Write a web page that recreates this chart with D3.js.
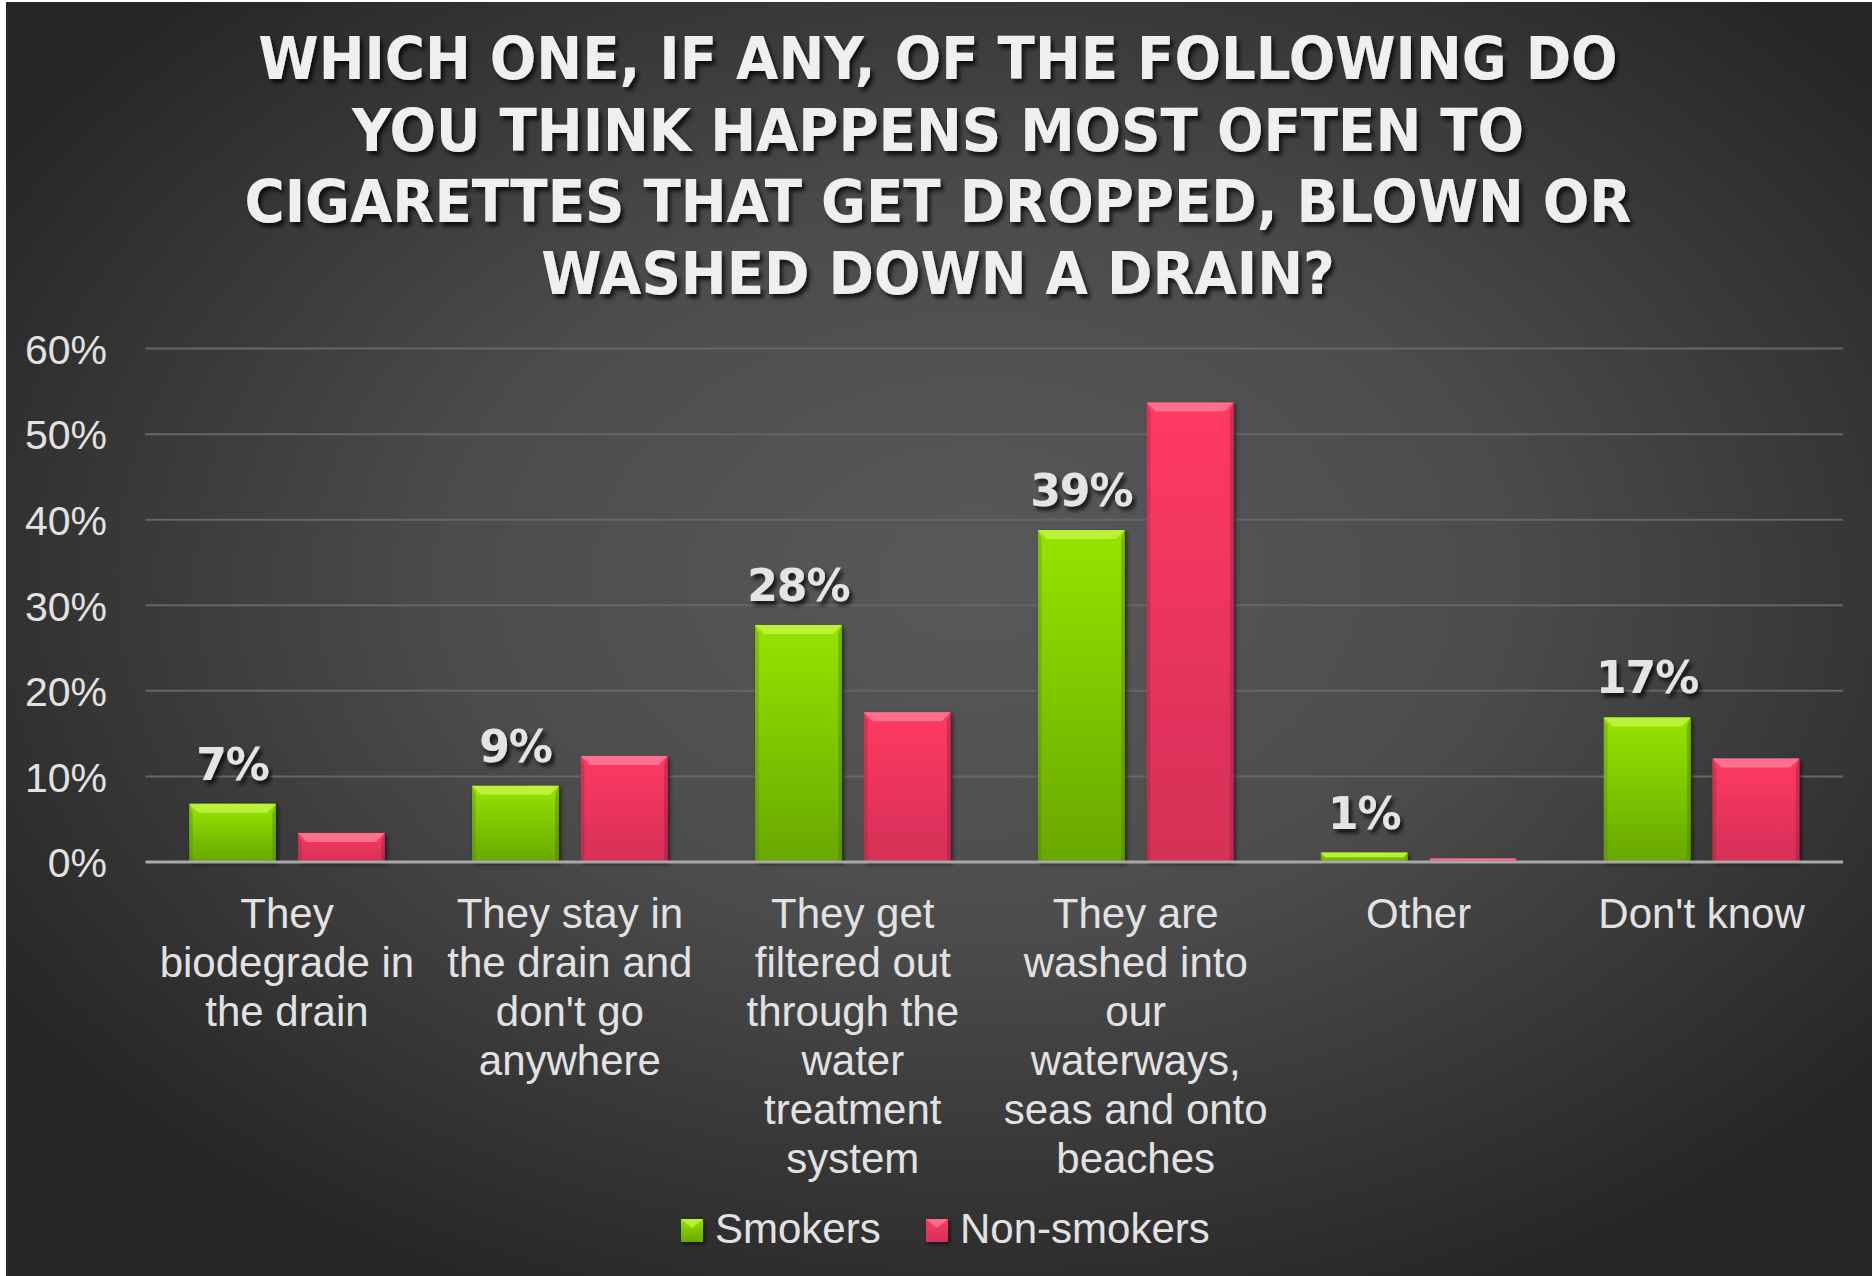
<!DOCTYPE html>
<html>
<head>
<meta charset="utf-8">
<script src="https://cdn.jsdelivr.net/npm/d3@7"></script>
<style>
  html, body { margin: 0; padding: 0; background: #ffffff; }
  svg { display: block; }
</style>
</head>
<body>
<svg id="chart" width="1872" height="1276"></svg>
<script>
// ---------- DATA ----------
const titleLines = [
  "WHICH ONE, IF ANY, OF THE FOLLOWING DO",
  "YOU THINK HAPPENS MOST OFTEN TO",
  "CIGARETTES THAT GET DROPPED, BLOWN OR",
  "WASHED DOWN A DRAIN?"
];
const categories = [
  "They\nbiodegrade in\nthe drain",
  "They stay in\nthe drain and\ndon't go\nanywhere",
  "They get\nfiltered out\nthrough the\nwater\ntreatment\nsystem",
  "They are\nwashed into\nour\nwaterways,\nseas and onto\nbeaches",
  "Other",
  "Don't know"
];
const seriesNames = ["Smokers", "Non-smokers"];
const smokers    = [0.068, 0.089, 0.277, 0.388, 0.011, 0.169];
const nonSmokers = [0.034, 0.124, 0.175, 0.537, 0.004, 0.121];
const yTicks = [0, 0.1, 0.2, 0.3, 0.4, 0.5, 0.6];

// ---------- SETUP ----------
const W = 1872, H = 1276;
const svg = d3.select("#chart");
const defs = svg.append("defs");

// background radial gradient
const bg = defs.append("radialGradient").attr("id", "bgGrad")
  .attr("cx", "52%").attr("cy", "45%").attr("r", "62%");
bg.append("stop").attr("offset", "0%").attr("stop-color", "#595959");
bg.append("stop").attr("offset", "45%").attr("stop-color", "#4c4c4c");
bg.append("stop").attr("offset", "100%").attr("stop-color", "#262626");

const colors = {
  Smokers: { top: "#96e400", bottom: "#68a800", bevel: "#c2f542", edge: "#4f8000" },
  "Non-smokers": { top: "#ff3a62", bottom: "#d43058", bevel: "#ff7a96", edge: "#9e2040" }
};
Object.entries(colors).forEach(([k, c], i) => {
  const g = defs.append("linearGradient").attr("id", "barGrad" + i)
    .attr("x1", 0).attr("y1", 0).attr("x2", 0).attr("y2", 1);
  g.append("stop").attr("offset", "0%").attr("stop-color", c.top);
  g.append("stop").attr("offset", "100%").attr("stop-color", c.bottom);
});

const shadow = defs.append("filter").attr("id", "shadow")
  .attr("x", "-10%").attr("y", "-10%").attr("width", "130%").attr("height", "130%");
shadow.append("feDropShadow").attr("dx", 2).attr("dy", 2).attr("stdDeviation", 2)
  .attr("flood-color", "#000").attr("flood-opacity", 0.6);

const textShadow = defs.append("filter").attr("id", "textShadow")
  .attr("x", "-5%").attr("y", "-20%").attr("width", "110%").attr("height", "150%");
textShadow.append("feDropShadow").attr("dx", 3).attr("dy", 4).attr("stdDeviation", 2)
  .attr("flood-color", "#000").attr("flood-opacity", 0.75);

svg.append("rect").attr("x", 6).attr("y", 2).attr("width", W - 6).attr("height", H - 2)
  .attr("fill", "url(#bgGrad)");

// ---------- SCALES ----------
const x0 = d3.scaleBand().domain(categories).range([145.5, 1843]).paddingInner(0).paddingOuter(0);
const x1 = d3.scaleBand().domain(seriesNames).range([0, x0.bandwidth()])
  .paddingInner(0.202).paddingOuter(0.402);
const y = d3.scaleLinear().domain([0, 0.6]).range([862, 348.6]);

// ---------- GRID ----------
svg.append("g").selectAll("line").data(yTicks.filter(d => d > 0)).join("line")
  .attr("x1", x0.range()[0]).attr("x2", x0.range()[1])
  .attr("y1", d => y(d)).attr("y2", d => y(d))
  .attr("stroke", "#666666").attr("stroke-width", 2);

// y axis labels
const yAxis = d3.axisLeft(y).tickValues(yTicks).tickFormat(d3.format(".0%")).tickSize(0).tickPadding(0);
const yg = svg.append("g").attr("transform", "translate(107,0)").call(yAxis);
yg.select(".domain").remove();
yg.selectAll("text").attr("font-family", "'Liberation Sans', Arial, sans-serif")
  .attr("font-size", 41).attr("fill", "#e2e2e2").attr("dy", "0.36em");

// ---------- BARS ----------
const data = categories.map((c, i) => ({ cat: c, vals: [
  { s: "Smokers", v: smokers[i], idx: 0 },
  { s: "Non-smokers", v: nonSmokers[i], idx: 1 }
]}));

const groups = svg.append("g").selectAll("g").data(data).join("g")
  .attr("transform", d => `translate(${x0(d.cat)},0)`);

const bars = groups.selectAll("g.bar").data(d => d.vals).join("g").attr("class", "bar");
bars.each(function(d) {
  const g = d3.select(this);
  const bx = x1(d.s), bw = x1.bandwidth();
  const top = y(d.v), bot = y(0), h = bot - top;
  const c = colors[d.s];
  g.append("rect").attr("x", bx).attr("y", top).attr("width", bw).attr("height", h)
    .attr("fill", `url(#barGrad${d.idx})`).attr("filter", "url(#shadow)");
  const bev = Math.min(9, h / 2);
  // top bevel
  g.append("path").attr("d", `M${bx},${top} L${bx + bw},${top} L${bx + bw - bev},${top + bev} L${bx + bev},${top + bev} Z`)
    .attr("fill", c.bevel).attr("opacity", 0.85);
  // side edges
  g.append("path").attr("d", `M${bx},${top} L${bx + bev * 0.4},${top + bev} L${bx + bev * 0.4},${bot} L${bx},${bot} Z`)
    .attr("fill", c.edge).attr("opacity", 0.35);
  g.append("path").attr("d", `M${bx + bw},${top} L${bx + bw - bev * 0.4},${top + bev} L${bx + bw - bev * 0.4},${bot} L${bx + bw},${bot} Z`)
    .attr("fill", c.edge).attr("opacity", 0.45);
});

// value labels (smokers only)
groups.append("text")
  .attr("x", d => x1("Smokers") + x1.bandwidth() / 2)
  .attr("y", d => y(d.vals[0].v) - 24)
  .attr("text-anchor", "middle")
  .attr("font-family", "'DejaVu Sans', sans-serif").attr("font-weight", "bold")
  .attr("font-size", 44).attr("fill", "#e4e4e4").attr("filter", "url(#textShadow)")
  .attr("letter-spacing", -1)
  .text(d => d3.format(".0%")(d.vals[0].v));

// zero axis line
svg.append("line").attr("x1", x0.range()[0]).attr("x2", x0.range()[1])
  .attr("y1", y(0)).attr("y2", y(0)).attr("stroke", "#a8a8a8").attr("stroke-width", 3);

// category labels
const catG = svg.append("g").selectAll("text").data(categories).join("text")
  .attr("text-anchor", "middle")
  .attr("font-family", "'Liberation Sans', Arial, sans-serif")
  .attr("font-size", 42).attr("fill", "#e2e2e2");
catG.each(function(c) {
  const t = d3.select(this);
  c.split("\n").forEach((line, i) => {
    t.append("tspan").attr("x", x0(c) + x0.bandwidth() / 2).attr("y", 928 + i * 49).text(line);
  });
});

// ---------- TITLE ----------
const titleG = svg.append("g").attr("filter", "url(#textShadow)");
const tt = titleG.selectAll("text").data(titleLines).join("text")
  .attr("x", 938).attr("y", (d, i) => 79 + i * 71.7)
  .attr("text-anchor", "middle")
  .attr("font-family", "'DejaVu Sans', sans-serif").attr("font-weight", "bold")
  .attr("font-size", 59).attr("fill", "#efefef")
  .text(d => d);
const widths = tt.nodes().map(n => n.getComputedTextLength());
const k = 1387 / d3.max(widths);
tt.attr("textLength", (d, i) => widths[i] * k).attr("lengthAdjust", "spacingAndGlyphs");

// ---------- LEGEND ----------
const legendX = [681, 926];
const lg = svg.append("g").selectAll("g").data(seriesNames).join("g")
  .attr("transform", (d, i) => `translate(${legendX[i]},1219)`);
lg.append("rect").attr("width", 22).attr("height", 23)
  .attr("fill", (d, i) => `url(#barGrad${i})`).attr("filter", "url(#shadow)");
lg.append("path").attr("d", "M0,0 L22,0 L11,9 Z").attr("fill", d => colors[d].bevel).attr("opacity", 0.8);
lg.append("text").attr("x", 34).attr("y", 24)
  .attr("font-family", "'Liberation Sans', Arial, sans-serif")
  .attr("font-size", 42).attr("fill", "#e2e2e2").text(d => d);
</script>
</body>
</html>
